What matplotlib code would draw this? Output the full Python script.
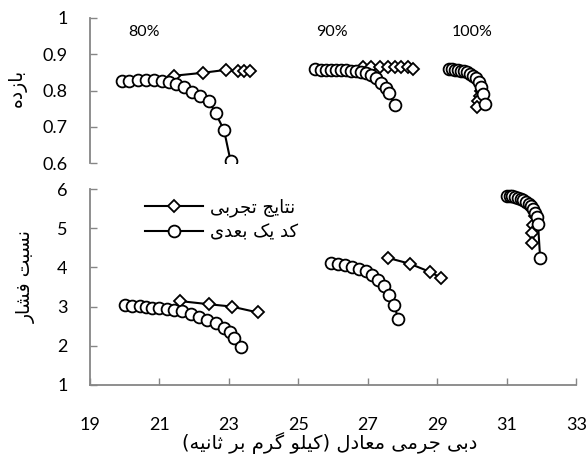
import matplotlib
matplotlib.use("Agg")
import matplotlib.pyplot as plt
from matplotlib.lines import Line2D

# ---- data ----
# efficiency, top panel
eff_code_80_x = [19.92, 20.13, 20.37, 20.61, 20.85, 21.07, 21.28, 21.47, 21.71, 21.95, 22.18, 22.43, 22.62, 22.86, 23.05]
eff_code_80_y = [0.827, 0.827, 0.829, 0.829, 0.829, 0.827, 0.825, 0.818, 0.809, 0.797, 0.785, 0.770, 0.737, 0.691, 0.605]
eff_exp_80_x = [21.43, 22.25, 22.91, 23.25, 23.44, 23.60]
eff_exp_80_y = [0.841, 0.849, 0.857, 0.853, 0.853, 0.853]

eff_code_90_x = [25.47, 25.66, 25.80, 25.95, 26.09, 26.23, 26.38, 26.52, 26.66, 26.81, 26.95, 27.09, 27.24, 27.38, 27.53, 27.62, 27.77]
eff_code_90_y = [0.859, 0.857, 0.857, 0.857, 0.857, 0.857, 0.857, 0.855, 0.855, 0.852, 0.849, 0.843, 0.834, 0.820, 0.806, 0.793, 0.760]
eff_exp_90_x = [26.86, 27.10, 27.34, 27.58, 27.77, 27.96, 28.15, 28.30]
eff_exp_90_y = [0.864, 0.866, 0.866, 0.866, 0.866, 0.866, 0.864, 0.859]

eff_code_100_x = [29.34, 29.43, 29.52, 29.60, 29.69, 29.78, 29.86, 29.95, 30.03, 30.12, 30.21, 30.26, 30.32, 30.38]
eff_code_100_y = [0.859, 0.859, 0.858, 0.857, 0.855, 0.854, 0.851, 0.847, 0.841, 0.834, 0.823, 0.810, 0.790, 0.763]
eff_exp_100_x = [30.25, 30.22, 30.18, 30.15]
eff_exp_100_y = [0.800, 0.785, 0.770, 0.755]

# pressure ratio, bottom panel
pr_code_80_x = [20.00, 20.22, 20.43, 20.62, 20.80, 20.99, 21.23, 21.42, 21.66, 21.90, 22.14, 22.38, 22.62, 22.85, 23.02, 23.14, 23.34]
pr_code_80_y = [3.03, 3.02, 3.01, 3.00, 2.97, 2.96, 2.93, 2.91, 2.88, 2.82, 2.74, 2.66, 2.57, 2.45, 2.35, 2.20, 1.96]
pr_exp_80_x = [21.59, 22.42, 23.08, 23.83]
pr_exp_80_y = [3.14, 3.06, 3.00, 2.85]

pr_code_90_x = [25.95, 26.15, 26.35, 26.55, 26.75, 26.95, 27.13, 27.30, 27.46, 27.60, 27.75, 27.88]
pr_code_90_y = [4.12, 4.09, 4.06, 4.02, 3.97, 3.90, 3.80, 3.68, 3.52, 3.30, 3.05, 2.68]
pr_exp_90_x = [27.59, 28.22, 28.80, 29.11]
pr_exp_90_y = [4.24, 4.09, 3.88, 3.73]

pr_code_100_x = [31.00, 31.08, 31.16, 31.24, 31.32, 31.40, 31.48, 31.56, 31.63, 31.70, 31.76, 31.82, 31.87, 31.90, 31.96]
pr_code_100_y = [5.83, 5.82, 5.81, 5.79, 5.77, 5.75, 5.72, 5.68, 5.63, 5.57, 5.50, 5.40, 5.28, 5.10, 4.25]
pr_exp_100_x = [31.80, 31.76, 31.74, 31.72]
pr_exp_100_y = [5.30, 5.08, 4.88, 4.62]

speed_labels = ["80%", "90%", "100%"]
speed_label_x = [20.55, 25.98, 30.0]

x_ticks = [19, 21, 23, 25, 27, 29, 31, 33]
eff_ticks = [0.6, 0.7, 0.8, 0.9, 1.0]
eff_tick_labels = ["0.6", "0.7", "0.8", "0.9", "1"]
pr_ticks = [1, 2, 3, 4, 5, 6]

label_exp = "نتایج تجربی"
label_code = "کد یک بعدی"
ylabel_eff = "بازده"
ylabel_pr = "نسبت فشار"
xlabel = "دبی جرمی معادل (کیلو گرم بر ثانیه)"


# matplotlib has no arabic shaping -> do it by hand with presentation forms
FORMS = {
    'ا': ('\uFE8D', '\uFE8E'), 'د': ('\uFEA9', '\uFEAA'), 'ر': ('\uFEAD', '\uFEAE'),
    'ز': ('\uFEAF', '\uFEB0'), 'و': ('\uFEED', '\uFEEE'),
    'ب': ('\uFE8F', '\uFE90', '\uFE91', '\uFE92'), 'ت': ('\uFE95', '\uFE96', '\uFE97', '\uFE98'),
    'ث': ('\uFE99', '\uFE9A', '\uFE9B', '\uFE9C'), 'ج': ('\uFE9D', '\uFE9E', '\uFE9F', '\uFEA0'),
    'س': ('\uFEB1', '\uFEB2', '\uFEB3', '\uFEB4'), 'ش': ('\uFEB5', '\uFEB6', '\uFEB7', '\uFEB8'),
    'ع': ('\uFEC9', '\uFECA', '\uFECB', '\uFECC'), 'ف': ('\uFED1', '\uFED2', '\uFED3', '\uFED4'),
    'ل': ('\uFEDD', '\uFEDE', '\uFEDF', '\uFEE0'), 'م': ('\uFEE1', '\uFEE2', '\uFEE3', '\uFEE4'),
    'ن': ('\uFEE5', '\uFEE6', '\uFEE7', '\uFEE8'), 'ه': ('\uFEE9', '\uFEEA', '\uFEEB', '\uFEEC'),
    'ی': ('\uFBFC', '\uFBFD', '\uFBFE', '\uFBFF'), 'ک': ('\uFB8E', '\uFB8F', '\uFB90', '\uFB91'),
    'گ': ('\uFB92', '\uFB93', '\uFB94', '\uFB95'),
}


def fa(text):
    out = []
    for i, c in enumerate(text):
        if c not in FORMS:
            out.append(c)
            continue
        prev = text[i - 1] if i > 0 else None
        nxt = text[i + 1] if i + 1 < len(text) else None
        f = FORMS[c]
        jp = prev in FORMS and len(FORMS[prev]) == 4
        jn = nxt in FORMS and len(f) == 4
        if jp and jn:
            out.append(f[3])
        elif jp:
            out.append(f[1])
        elif jn:
            out.append(f[2])
        else:
            out.append(f[0])
    s = ''.join(reversed(out))
    return s.translate(str.maketrans('()', ')('))


NUM_FONT = ['Lato', 'DejaVu Sans']
FA_FONT = ['DejaVu Sans']
GRAY = '#868686'

fig = plt.figure(figsize=(5.88, 4.61), dpi=100)
ax1 = fig.add_axes([0.153, 0.646, 0.827, 0.315])
ax2 = fig.add_axes([0.153, 0.165, 0.827, 0.425])

line_kw = dict(color='black', lw=1.5, mfc='white', mec='black', mew=1.3)

ax1.plot(eff_exp_80_x, eff_exp_80_y, marker='D', ms=6.5, **line_kw)
ax1.plot(eff_exp_90_x, eff_exp_90_y, marker='D', ms=6.5, **line_kw)
ax1.plot(eff_exp_100_x, eff_exp_100_y, marker='D', ms=6.5, **line_kw)
ax1.plot(eff_code_80_x, eff_code_80_y, marker='o', ms=8.5, **line_kw)
ax1.plot(eff_code_90_x, eff_code_90_y, marker='o', ms=8.5, **line_kw)
ax1.plot(eff_code_100_x, eff_code_100_y, marker='o', ms=8.5, **line_kw)

ax2.plot(pr_exp_80_x, pr_exp_80_y, marker='D', ms=6.5, **line_kw)
ax2.plot(pr_exp_90_x, pr_exp_90_y, marker='D', ms=6.5, **line_kw)
ax2.plot(pr_exp_100_x, pr_exp_100_y, marker='D', ms=6.5, **line_kw)
ax2.plot(pr_code_80_x, pr_code_80_y, marker='o', ms=8.5, **line_kw)
ax2.plot(pr_code_90_x, pr_code_90_y, marker='o', ms=8.5, **line_kw)
ax2.plot(pr_code_100_x, pr_code_100_y, marker='o', ms=8.5, **line_kw)

for ax in (ax1, ax2):
    ax.set_xlim(19, 33)
    for s in ('top', 'right'):
        ax.spines[s].set_visible(False)
    ax.spines['left'].set_color(GRAY)
    ax.spines['bottom'].set_color(GRAY)
    ax.spines['left'].set_linewidth(1.3)
    ax.spines['bottom'].set_linewidth(1.3)
    ax.tick_params(axis='y', direction='in', length=5, width=1, color=GRAY, pad=16, labelsize=13)
    ax.patch.set_alpha(0)

ax1.set_ylim(0.6, 1.0)
ax1.set_yticks(eff_ticks)
ax1.set_yticklabels(eff_tick_labels)
ax1.spines['bottom'].set_visible(False)
ax1.set_xticks([])

ax2.set_ylim(1, 6)
ax2.set_yticks(pr_ticks)
ax2.set_xticks(x_ticks)
ax2.tick_params(axis='x', direction='in', length=5, width=1, color=GRAY, pad=23, labelsize=13)

for ax in (ax1, ax2):
    for lab in ax.get_xticklabels() + ax.get_yticklabels():
        lab.set_family(NUM_FONT)

for lbl, xv in zip(speed_labels, speed_label_x):
    ax1.text(xv, 0.961, lbl, ha='center', va='center', fontsize=11.5, family=NUM_FONT)

handles = [
    Line2D([], [], marker='D', ms=6.5, **line_kw),
    Line2D([], [], marker='o', ms=8.5, **line_kw),
]
ax2.legend(handles, [fa(label_exp), fa(label_code)], loc='upper left',
           bbox_to_anchor=(0.113, 0.95), frameon=False, handlelength=3.2,
           handletextpad=0.4, labelspacing=0.35, borderpad=0, borderaxespad=0,
           prop={'family': FA_FONT, 'size': 13})

fig.text(0.03, 0.81, fa(ylabel_eff), rotation=90, ha='center', va='center',
         fontsize=13.5, family=FA_FONT)
fig.text(0.045, 0.40, fa(ylabel_pr), rotation=90, ha='center', va='center',
         fontsize=13.5, family=FA_FONT)
fig.text(0.56, 0.04, fa(xlabel), ha='center', va='center', fontsize=14, family=FA_FONT)

fig.savefig('out.png', dpi=100)
